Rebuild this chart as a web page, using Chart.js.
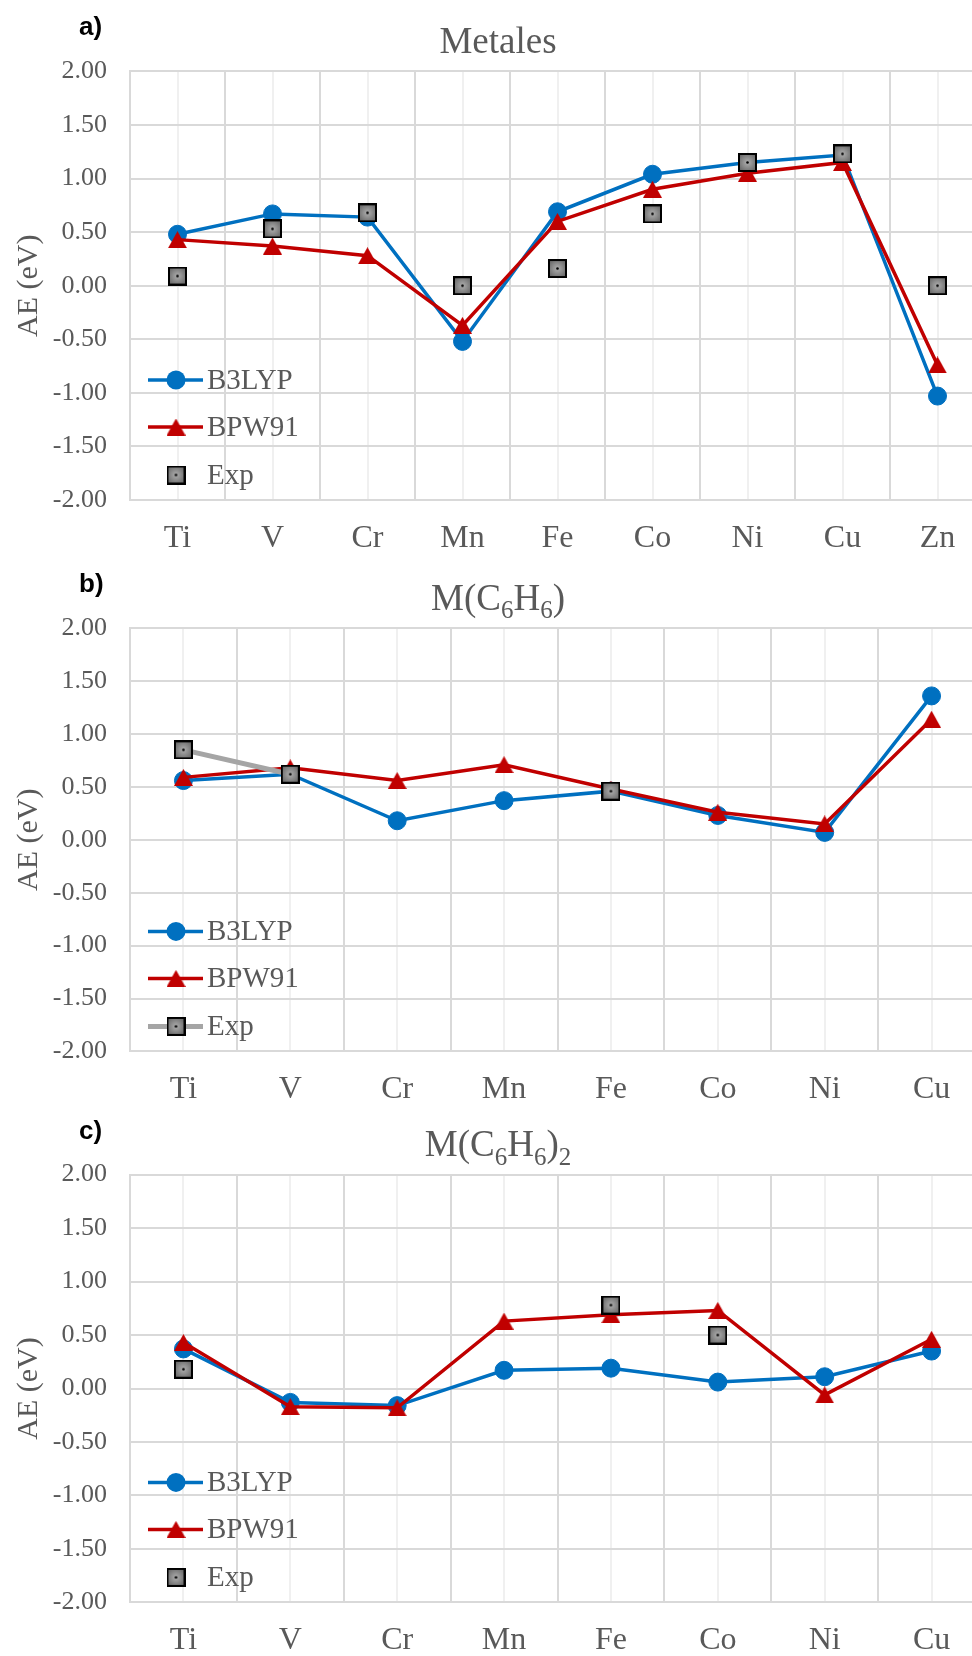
<!DOCTYPE html>
<html>
<head>
<meta charset="utf-8">
<script src="https://cdn.jsdelivr.net/npm/chart.js@4.4.0/dist/chart.umd.min.js"></script>
<style>
  html, body { margin: 0; padding: 0; background: #fff; }
  #page { position: relative; width: 972px; height: 1656px; overflow: hidden; }
  #page canvas { position: absolute; left: 0; }
</style>
</head>
<body>
<div id="page">
  <canvas id="chartA" width="1000" height="560" style="top:0px"></canvas>
  <canvas id="chartB" width="1000" height="560" style="top:555px"></canvas>
  <canvas id="chartC" width="1000" height="560" style="top:1096px"></canvas>
</div>
<script>
// --- Data ---
const yTickValues = [-2, -1.5, -1, -0.5, 0, 0.5, 1, 1.5, 2];

// a) Metales
const metalesLabels = ['Ti', 'V', 'Cr', 'Mn', 'Fe', 'Co', 'Ni', 'Cu', 'Zn'];
const metalesB3LYP = [0.48, 0.67, 0.64, -0.52, 0.69, 1.04, 1.15, 1.22, -1.03];
const metalesBPW91 = [0.43, 0.37, 0.28, -0.37, 0.60, 0.90, 1.05, 1.15, -0.74];
const metalesExp   = [0.09, 0.53, 0.68, 0.00, 0.16, 0.67, 1.15, 1.23, 0.00];

// b) M(C6H6)
const benzLabels = ['Ti', 'V', 'Cr', 'Mn', 'Fe', 'Co', 'Ni', 'Cu'];
const benzB3LYP = [0.56, 0.62, 0.18, 0.37, 0.46, 0.23, 0.07, 1.36];
const benzBPW91 = [0.59, 0.68, 0.56, 0.71, 0.48, 0.26, 0.15, 1.14];
const benzExp   = [0.85, 0.62, null, null, 0.46, null, null, null];

// c) M(C6H6)2
const bisLabels = ['Ti', 'V', 'Cr', 'Mn', 'Fe', 'Co', 'Ni', 'Cu'];
const bisB3LYP = [0.37, -0.13, -0.16, 0.17, 0.19, 0.06, 0.11, 0.35];
const bisBPW91 = [0.43, -0.17, -0.18, 0.63, 0.69, 0.73, -0.06, 0.46];
const bisExp   = [0.18, null, null, null, 0.78, 0.50, null, null];

// --- Styles ---
const SERIF = '"Liberation Serif", "Times New Roman", serif';
const TEXT = '#595959';
const BLUE = '#0070C0';
const RED = '#C00000';

// marker images (excel-like triangle and gray square)
function makeTriangle(color) {
  const c = document.createElement('canvas');
  c.width = 19; c.height = 17;
  const g = c.getContext('2d');
  g.fillStyle = color;
  g.beginPath();
  g.moveTo(9.5, 0);
  g.lineTo(19, 17);
  g.lineTo(0, 17);
  g.closePath();
  g.fill();
  return c;
}

function makeSquare() {
  const c = document.createElement('canvas');
  c.width = 19; c.height = 19;
  const g = c.getContext('2d');
  const grad = g.createRadialGradient(9.5, 9.5, 1, 9.5, 9.5, 10);
  grad.addColorStop(0, '#a8a8a8');
  grad.addColorStop(1, '#6a6a6a');
  g.fillStyle = grad;
  g.fillRect(1, 1, 17, 17);
  g.strokeStyle = '#000';
  g.lineWidth = 2;
  g.strokeRect(1, 1, 17, 17);
  g.fillStyle = '#000';
  g.beginPath();
  g.arc(9.5, 9.5, 1.3, 0, Math.PI * 2);
  g.fill();
  return c;
}

const triangleImg = makeTriangle(RED);
const squareImg = makeSquare();

// --- Plugins ---
const panelTitle = {
  id: 'panelTitle',
  afterDraw(chart, args, opts) {
    const { ctx, chartArea } = chart;
    ctx.save();
    ctx.fillStyle = '#000';
    ctx.font = 'bold 26px "Liberation Sans", Arial, sans-serif';
    ctx.textAlign = 'left';
    ctx.textBaseline = 'alphabetic';
    ctx.fillText(opts.letter, 79, chartArea.top - 36);

    // title with _n subscripts
    const parts = opts.text.split(/(_\d)/).filter(Boolean).map(p =>
      p[0] === '_' ? { t: p.slice(1), sub: true } : { t: p, sub: false });
    const bigFont = '37px ' + SERIF;
    const subFont = '25px ' + SERIF;
    let w = 0;
    parts.forEach(p => { ctx.font = p.sub ? subFont : bigFont; p.w = ctx.measureText(p.t).width; w += p.w; });
    let x = 498 - w / 2;
    const base = chartArea.top - 18.5;
    ctx.fillStyle = TEXT;
    parts.forEach(p => {
      ctx.font = p.sub ? subFont : bigFont;
      ctx.fillText(p.t, x, p.sub ? base + 8.5 : base);
      x += p.w;
    });
    ctx.restore();
  }
};

const insideLegend = {
  id: 'insideLegend',
  afterDatasetsDraw(chart) {
    const { ctx, chartArea } = chart;
    const rows = [120, 73, 25];
    chart.data.datasets.forEach((ds, i) => {
      const y = chartArea.bottom - rows[i];
      ctx.save();
      if (ds.showLine !== false) {
        ctx.strokeStyle = ds.borderColor;
        ctx.lineWidth = ds.borderWidth;
        ctx.beginPath();
        ctx.moveTo(148, y);
        ctx.lineTo(203, y);
        ctx.stroke();
      }
      if (typeof ds.pointStyle === 'object') {
        const img = ds.pointStyle;
        ctx.drawImage(img, 176 - img.width / 2, y - img.height / 2);
      } else {
        ctx.fillStyle = ds.pointBackgroundColor;
        ctx.beginPath();
        ctx.arc(176, y, ds.pointRadius + 0.5, 0, Math.PI * 2);
        ctx.fill();
      }
      ctx.fillStyle = TEXT;
      ctx.font = '29px ' + SERIF;
      ctx.textBaseline = 'middle';
      ctx.textAlign = 'left';
      ctx.fillText(ds.label, 207, y + 1);
      ctx.restore();
    });
  }
};

// --- Builders ---
function seriesB3LYP(data) {
  return {
    label: 'B3LYP', data, order: 3,
    borderColor: BLUE, borderWidth: 3.5, tension: 0,
    pointStyle: 'circle', pointRadius: 9, pointBackgroundColor: BLUE,
    pointBorderColor: BLUE, pointBorderWidth: 1
  };
}

function seriesBPW91(data) {
  return {
    label: 'BPW91', data, order: 2,
    borderColor: RED, borderWidth: 3.5, tension: 0,
    pointStyle: triangleImg, pointRadius: 9
  };
}

function seriesExp(data, withLine) {
  return {
    label: 'Exp', data, order: 1,
    showLine: withLine, spanGaps: false,
    borderColor: '#A5A5A5', borderWidth: 5, tension: 0,
    pointStyle: squareImg, pointRadius: 9
  };
}

function buildChart(id, labels, datasets, letter, text, plotTop, axisHeight) {
  return new Chart(document.getElementById(id), {
    type: 'line',
    data: { labels, datasets },
    options: {
      responsive: false,
      animation: false,
      layout: { padding: { top: plotTop, right: 15, left: 0, bottom: 0 } },
      plugins: {
        legend: { display: false },
        tooltip: { enabled: false },
        title: { display: false },
        panelTitle: { letter, text }
      },
      scales: {
        x: {
          type: 'category', position: 'bottom', offset: true,
          grid: { offset: true, color: '#d9d9d9', lineWidth: 2, drawTicks: false },
          border: { display: false },
          ticks: { color: TEXT, font: { family: SERIF, size: 32 }, padding: 19, maxRotation: 0 },
          afterFit: s => { s.height = axisHeight; }
        },
        x2: {
          type: 'category', position: 'top', offset: true,
          grid: { offset: false, color: '#f0f0f0', lineWidth: 2, drawTicks: false },
          border: { display: false },
          ticks: { display: false },
          afterFit: s => { s.height = 0; }
        },
        y: {
          min: -2, max: 2,
          afterBuildTicks: s => { s.ticks = yTickValues.map(v => ({ value: v })); },
          grid: { color: '#d9d9d9', lineWidth: 2, drawTicks: false },
          border: { color: '#d9d9d9', width: 2 },
          ticks: { color: TEXT, font: { family: SERIF, size: 26 }, padding: 23, callback: v => v.toFixed(2) },
          title: { display: true, text: 'AE (eV)', color: TEXT, font: { family: SERIF, size: 30 }, padding: { top: 11, bottom: 0 } },
          afterFit: s => { s.width = 130; }
        }
      }
    },
    plugins: [panelTitle, insideLegend]
  });
}

buildChart('chartA', metalesLabels,
  [seriesB3LYP(metalesB3LYP), seriesBPW91(metalesBPW91), seriesExp(metalesExp, false)],
  'a)', 'Metales', 71.4, 60);

buildChart('chartB', benzLabels,
  [seriesB3LYP(benzB3LYP), seriesBPW91(benzBPW91), seriesExp(benzExp, true)],
  'b)', 'M(C_6H_6)', 73.2, 63.6);

buildChart('chartC', bisLabels,
  [seriesB3LYP(bisB3LYP), seriesBPW91(bisBPW91), seriesExp(bisExp, false)],
  'c)', 'M(C_6H_6)_2', 78.6, 53.6);
</script>
</body>
</html>
